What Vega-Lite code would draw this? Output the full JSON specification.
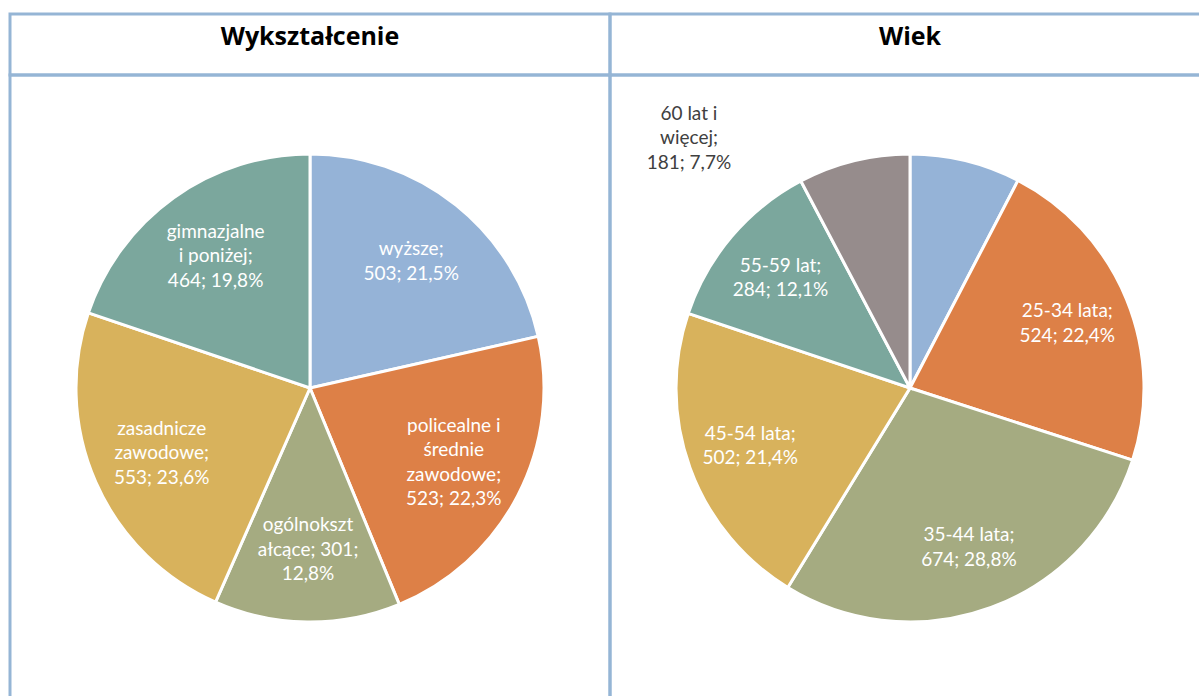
{
  "$schema": "https://vega.github.io/schema/vega-lite/v6.json",
  "background": "white",
  "padding": {"left": 8, "top": 12, "right": 0, "bottom": 0},
  "spacing": 0,
  "columns": 2,
  "bounds": "flush",
  "resolve": {"scale": {"color": "independent", "theta": "independent"}},
  "config": {
    "view": {"stroke": "#95B5D5", "strokeWidth": 3},
    "concat": {"spacing": 0},
    "text": {"font": "Lato"}
  },
  "datasets": {
    "wyksztalcenie": [
      {"kategoria": "wyższe", "liczba": 503, "kolejnosc": 1, "etykieta": "wyższe;\n503; 21,5%"},
      {"kategoria": "policealne i średnie zawodowe", "liczba": 523, "kolejnosc": 2, "etykieta": "policealne i\nśrednie\nzawodowe;\n523; 22,3%"},
      {"kategoria": "ogólnokształcące", "liczba": 301, "kolejnosc": 3, "etykieta": "ogólnokszt\nałcące; 301;\n12,8%"},
      {"kategoria": "zasadnicze zawodowe", "liczba": 553, "kolejnosc": 4, "etykieta": "zasadnicze\nzawodowe;\n553; 23,6%"},
      {"kategoria": "gimnazjalne i poniżej", "liczba": 464, "kolejnosc": 5, "etykieta": "gimnazjalne\ni poniżej;\n464; 19,8%"}
    ],
    "wiek": [
      {"kategoria": "18-24 lata", "liczba": 179, "kolejnosc": 1, "etykieta": "18-24 lata;\n179; 7,6%"},
      {"kategoria": "25-34 lata", "liczba": 524, "kolejnosc": 2, "etykieta": "25-34 lata;\n524; 22,4%"},
      {"kategoria": "35-44 lata", "liczba": 674, "kolejnosc": 3, "etykieta": "35-44 lata;\n674; 28,8%"},
      {"kategoria": "45-54 lata", "liczba": 502, "kolejnosc": 4, "etykieta": "45-54 lata;\n502; 21,4%"},
      {"kategoria": "55-59 lat", "liczba": 284, "kolejnosc": 5, "etykieta": "55-59 lat;\n284; 12,1%"},
      {"kategoria": "60 lat i więcej", "liczba": 181, "kolejnosc": 6, "etykieta": "60 lat i\nwięcej;\n181; 7,7%"}
    ]
  },
  "concat": [
    {
      "width": 600,
      "height": 61,
      "view": {"stroke": "#95B5D5", "strokeWidth": 3},
      "data": {"values": [{"naglowek": "Wykształcenie"}]},
      "mark": {"type": "text", "font": "Open Sans", "fontWeight": "bold", "fontSize": 25, "baseline": "alphabetic", "color": "black"},
      "encoding": {"text": {"field": "naglowek", "type": "nominal"}}
    },
    {
      "width": 600,
      "height": 61,
      "view": {"stroke": "#95B5D5", "strokeWidth": 3},
      "data": {"values": [{"naglowek": "Wiek"}]},
      "mark": {"type": "text", "font": "Open Sans", "fontWeight": "bold", "fontSize": 25, "baseline": "alphabetic", "color": "black"},
      "encoding": {"text": {"field": "naglowek", "type": "nominal"}}
    },
    {
      "width": 600,
      "height": 626,
      "view": {"stroke": "#95B5D5", "strokeWidth": 3},
      "data": {"name": "wyksztalcenie"},
      "encoding": {
        "theta": {"field": "liczba", "type": "quantitative", "stack": true},
        "order": {"field": "kolejnosc", "type": "quantitative"}
      },
      "layer": [
        {
          "mark": {"type": "arc", "radius": 234, "stroke": "white", "strokeWidth": 3},
          "encoding": {
            "color": {
              "field": "kategoria",
              "type": "nominal",
              "scale": {
                "domain": ["wyższe", "policealne i średnie zawodowe", "ogólnokształcące", "zasadnicze zawodowe", "gimnazjalne i poniżej"],
                "range": ["#95B3D7", "#DD8047", "#A5AB81", "#D8B25C", "#7BA79D"]
              },
              "legend": null
            }
          }
        },
        {
          "mark": {"type": "text", "radius": 162, "fontSize": 19, "lineBreak": "\n", "lineHeight": 24.5, "color": "white", "align": "center", "baseline": "middle", "dy": {"expr": "-(length(split(datum.etykieta, '\\n')) - 1) * 12.25"}},
          "encoding": {"text": {"field": "etykieta", "type": "nominal"}}
        }
      ]
    },
    {
      "width": 600,
      "height": 626,
      "view": {"stroke": "#95B5D5", "strokeWidth": 3},
      "data": {"name": "wiek"},
      "encoding": {
        "theta": {"field": "liczba", "type": "quantitative", "stack": true},
        "order": {"field": "kolejnosc", "type": "quantitative"}
      },
      "layer": [
        {
          "mark": {"type": "arc", "radius": 234, "stroke": "white", "strokeWidth": 3},
          "encoding": {
            "color": {
              "field": "kategoria",
              "type": "nominal",
              "scale": {
                "domain": ["18-24 lata", "25-34 lata", "35-44 lata", "45-54 lata", "55-59 lat", "60 lat i więcej"],
                "range": ["#95B3D7", "#DD8047", "#A5AB81", "#D8B25C", "#7BA79D", "#968C8C"]
              },
              "legend": null
            }
          }
        },
        {
          "mark": {"type": "text", "radius": 170, "fontSize": 19, "lineBreak": "\n", "lineHeight": 24.5, "color": "white", "align": "center", "baseline": "middle", "dy": {"expr": "-(length(split(datum.etykieta, '\\n')) - 1) * 12.25"}},
          "encoding": {
            "text": {
              "condition": {"test": "datum.kategoria === '60 lat i więcej' || datum.kategoria === '18-24 lata'", "value": ""},
              "field": "etykieta",
              "type": "nominal"
            }
          }
        },
        {
          "mark": {"type": "text", "radius": 250, "dx": -161, "dy": {"expr": "-7 - (length(split(datum.etykieta, '\\n')) - 1) * 12.25"}, "fontSize": 19, "lineBreak": "\n", "lineHeight": 24.5, "color": "#404040", "align": "center", "baseline": "middle"},
          "encoding": {
            "text": {
              "condition": {"test": "datum.kategoria !== '60 lat i więcej'", "value": ""},
              "field": "etykieta",
              "type": "nominal"
            }
          }
        }
      ]
    }
  ]
}
